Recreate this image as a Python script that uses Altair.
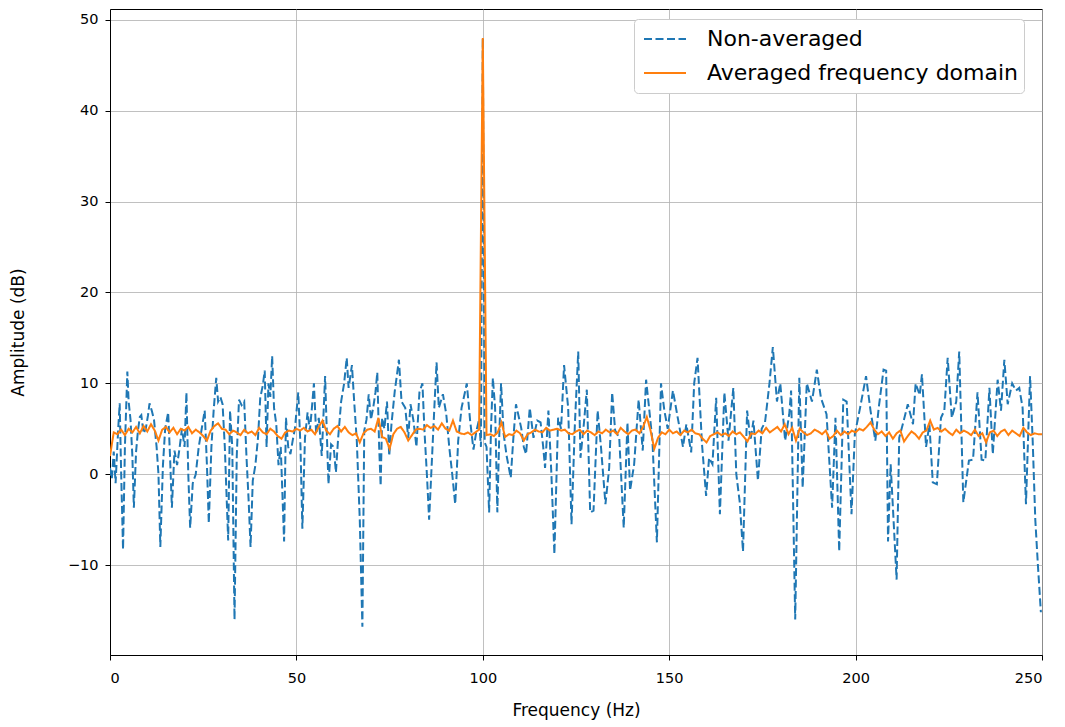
import altair as alt
import pandas as pd

series_names = ["Non-averaged", "Averaged frequency domain"]
series_colors = ["#1f77b4", "#ff7f0e"]

x_ticks = [0, 50, 100, 150, 200, 250]
y_ticks = [-10, 0, 10, 20, 30, 40, 50]

# Averaged spectrum (1 Hz bins)
avg_freq = list(range(251))
avg_db = [
    2.0, 4.6, 4.4, 4.9, 4.3, 5.0, 4.6, 5.2, 4.5, 5.3,
    4.7, 5.5, 4.8, 3.7, 4.9, 5.2, 4.6, 5.1, 4.4, 5.0,
    4.8, 5.2, 4.5, 4.9, 4.6, 4.2, 3.7, 4.8, 5.3, 5.6,
    5.0, 4.9, 4.4, 4.8, 4.6, 4.3, 4.9, 4.5, 4.7, 4.3,
    5.1, 4.6, 4.4, 5.0, 4.7, 4.2, 3.9, 4.6, 4.8, 4.7,
    5.0, 4.8, 5.1, 4.7, 4.9, 4.4, 5.2, 5.9, 4.8, 4.4,
    5.0, 5.3, 4.7, 5.2, 4.6, 4.3, 4.5, 3.5, 4.5, 4.9,
    5.0, 4.7, 6.2, 4.1, 3.9, 2.8, 4.4, 5.0, 5.2, 4.6,
    3.7, 4.3, 4.9, 5.0, 4.9, 5.4, 5.1, 5.3, 4.9, 5.6,
    5.0, 4.8, 5.9, 4.7, 4.5, 4.4, 4.6, 4.3, 4.6, 4.9,
    48.0,
    4.3, 4.4, 4.2, 4.6, 5.7, 4.1, 4.4, 4.3, 4.8,
    4.5, 3.7, 4.4, 4.6, 4.9, 4.7, 4.6, 5.1, 4.8, 4.9,
    5.0, 4.8, 4.9, 4.5, 4.4, 4.7, 4.9, 4.4, 4.8, 4.6,
    4.3, 4.7, 4.5, 4.9, 4.6, 4.8, 4.4, 5.1, 4.7, 4.4,
    4.8, 4.9, 4.5, 5.2, 6.3, 4.8, 2.8, 4.0, 4.6, 4.4,
    4.9, 4.5, 4.7, 4.3, 4.8, 4.6, 4.9, 4.5, 4.4, 3.9,
    3.5, 4.2, 4.4, 4.6, 4.3, 4.5, 4.2, 4.7, 4.4, 4.6,
    4.1, 3.6, 4.5, 4.4, 4.8, 4.5, 5.1, 4.6, 4.9, 5.2,
    4.7, 5.5, 4.4, 5.1, 3.7, 5.0, 4.6, 4.3, 4.5, 4.9,
    4.7, 4.4, 4.8, 3.9, 4.2, 4.8, 4.3, 4.7, 4.4, 4.8,
    4.6, 5.0, 4.8, 5.2, 5.7, 4.9, 4.4, 4.7, 4.2, 4.6,
    3.9, 4.5, 4.8, 3.6, 4.2, 4.7, 4.4, 3.9, 4.6, 4.8,
    5.9, 4.9, 5.1, 4.7, 5.0, 4.6, 4.3, 4.9, 4.5, 4.8,
    4.6, 4.3, 4.9, 4.2, 4.5, 3.5, 4.6, 4.8, 4.2, 4.7,
    4.9, 4.3, 4.8, 4.5, 4.2, 5.1, 4.6, 4.3, 4.5, 4.4,
    4.4,
]

# Non-averaged spectrum
raw_freq = [
    0, 0.5, 1, 1.5, 2.2, 2.6, 3, 3.5, 4, 4.65, 5, 5.5, 6, 6.4, 7, 7.5, 8, 8.4, 9, 9.6,
    10.2, 10.6, 11.2, 11.8, 12.5, 13, 13.5, 14.2, 14.8, 15.6, 16.1, 16.6, 17.3, 18, 18.7, 19.3,
    20, 20.5, 21, 21.5, 22.2, 23, 23.8, 24.6, 25.4, 26, 26.5, 27.2, 27.8, 28.5, 29, 29.6,
    30.2, 30.8, 31.7, 32.2, 32.8, 33.4, 34, 34.6, 35.3, 36, 36.6, 37.2, 37.7, 38.3, 39, 39.7,
    40.3, 41, 41.5, 42, 42.5, 43, 43.5, 44, 44.6, 45.2, 45.8, 46.7, 47.2, 47.8, 48.4, 49, 49.6,
    50.5, 51.1, 51.6, 52.3, 53, 53.6, 54.1, 54.7, 55.3, 56, 56.8, 57.7, 58.2, 58.6, 59.3,
    60, 60.6, 61.2, 62, 62.8, 63.5, 64, 64.9, 65.5, 66.2, 67, 67.7, 68.2, 68.8, 69.4,
    70, 70.6, 71.2, 71.7, 72.2, 72.6, 73, 73.6, 74.3, 74.9, 75.5, 76.4, 77, 77.5, 78.2, 79.2,
    80, 80.6, 81.4, 82.2, 83, 83.8, 84.4, 85, 85.6, 86.4, 87, 87.6, 88.2, 89.3,
    90.2, 91, 91.8, 92.6, 93.4, 94.3, 95.2, 95.7, 96.6, 97.5, 98.3, 99, 99.5,
    100, 100.5, 101, 101.7, 102.2, 102.7, 103.3, 103.9, 104.4, 104.9, 105.6, 106.4, 107.5,
    108.2, 108.9, 110.3, 111, 111.6, 112.6, 113.6, 114.6, 115.5, 116.2, 116.7, 117.6, 118.4,
    119.2, 120.2, 121, 121.8, 122.9, 123.8, 124.7, 125.6, 126.2, 127.1, 127.9, 128.8, 129.7,
    130.8, 131.7, 132.9, 133.9, 134.7, 135.5, 136.6, 137.8, 138.8, 139.5, 140.6, 141.8,
    142.9, 143.8, 144.5, 145.5, 146.7, 147.8, 148.7, 149.6, 151, 152.3, 153.7, 154.6,
    155.9, 156.7, 157.6, 158.8, 159.9, 160.7, 161.6, 162.6, 163.6, 164.8, 165.9, 167.2,
    168, 168.9, 169.8, 170.9, 171.8, 172.6, 173.8, 174.8, 175.7, 176.9, 177.8, 178.9,
    179.8, 181.1, 182.2, 182.7, 183.8, 184.9, 185.8, 186.9, 188.3, 189.6, 190.7, 192.2,
    193.7, 194.6, 195.6, 196.7, 197.6, 198.9, 199.8, 201.2, 202.8, 204, 205.3, 206.2,
    207.5, 208.2, 208.7, 209.4, 210.1, 211, 211.7, 213.1, 214, 215.4, 216.1, 217.2,
    217.8, 218.9, 219.8, 220.7, 221.8, 222.9, 223.8, 224.7, 225.8, 227, 227.8, 228.9,
    230.4, 231.5, 232.7, 233.8, 234.8, 235.9, 236.8, 238.1, 239, 239.9, 240.8, 242,
    243, 243.9, 244.8, 245.7, 246.8, 247.5, 248.2, 248.9, 249.7,
]
raw_db = [
    0.7, -0.5, 2.5, -1, 5, 7.8, 0, -8.3, 3, 11.3, 8, 6, 2, -3.7, 2.5, 4.8, 6.3, 6.5, 4.5, 5,
    6.5, 7.8, 7, 6, 3, 0, -8, 1, 5, 6.8, 2, -3.7, 2.6, 1, 3, 5,
    3, 9, 0, -5.9, -1, 0, 3, 5, 7, 1, -5.4, 3, 7, 10.6, 8, 8.5,
    7.7, 3, -7.3, 7, 3, -16, 2, 8.2, 7.6, 8, 2, -3, -8, -0.7, 1, 4,
    8.4, 9.8, 11.4, 3, 10, 8.5, 13, 7.3, 5.5, 1, 3, -7.4, 6.2, 3, 2.2, 3.7, 5,
    9, 3, -6, 4, 6.8, 4.8, 7, 10, 4.4, 6.2, 2, 10.8, 4, -1.1, 3.3,
    3, 0.2, 4, 8, 10, 12.8, 9.5, 12, 8, 3.7, -5, -16.8, 4.8, 6, 8.8,
    6, 7.3, 9, 11.2, 3, -1.3, 6.2, 5, 8, 2, 5.5, 9.2, 11, 12.6, 8, 7.3,
    4, 7.7, 5.9, 3, 9, 10, 4.4, 0, -5, 2, 7.3, 12.3, 7.3, 8.8,
    6.6, 3, 0, -3.3, 3.7, 7.3, 9, 10, 5.9, 2.7, 4.8, 6, 3,
    48, 3.5, 3, -4.2, 5, 10.6, 7.3, -4.2, 4, 10, 4.4, 2, -0.4,
    4, 7.7, 5.1, 3, 2.2, 7.3, 4, 5.9, 5.7, 3, 0.7, 7, 0,
    -8.8, 6.2, 5, 12, 7.3, -5.5, 5.5, 13.5, 1.8, 5.5, 9.3, -4.2, -4,
    7, 3, -3.3, 0.7, 9, 4.8, 4, -5.9, 5.7, -1.8, 1.1, 8.2,
    2.6, 10.4, 7.7, 3.7, -7.5, 10, 7, 5, 9.2, 6.2, 3, 5.5,
    2.4, 10, 12.8, 3.3, -2.4, 1.8, 1.1, 8.4, -4.4, 9, 3.7, 9.5,
    0, -3, -8.5, 7, 3.7, 5.9, -0.7, 5, 5.7, 10, 14, 8,
    10, 3.7, 6.6, 9.2, -16, 10.6, -1.5, 10, 8, 11.5, 8.4, 6.6,
    -3.7, 6.2, -8.5, 8.2, 8, -4.4, 4.4, 7.3, 10.8, 7, 3.7, 7.3,
    11.5, 11.4, -7.4, 1.1, -4.4, -11.6, 4, 6.2, 7.7, 5.5, 10, 8.7,
    11, 3, 5.5, -0.9, -1.1, 6.2, 7, 12.8, 6.2, 8, 13.5, -3.1,
    1.5, 1.6, 9, 1.6, 1.5, 9.5, 2.2, 10.4, 7, 12.6, 7.7, 10,
    9.2, 9.5, 7.3, -3.3, 10.8, 3.7, -5, -10, -15.2,
]

raw_df = pd.DataFrame({"freq": raw_freq, "db": raw_db, "series": series_names[0]})
avg_df = pd.DataFrame({"freq": avg_freq, "db": avg_db, "series": series_names[1]})

FONT = "DejaVu Sans"

legend = alt.Legend(
    title=None,
    orient="none",
    legendX=524,
    legendY=10,
    symbolType="stroke",
    symbolSize=1764,
    symbolStrokeWidth=2,
    symbolOffset=4,
    clipHeight=30,
    labelFont=FONT,
    labelFontSize=22,
    labelColor="black",
    labelLimit=600,
    labelOffset=20,
    fillColor="white",
    strokeColor="#cccccc",
    cornerRadius=4,
    padding=5,
    rowPadding=4,
)

x_enc = alt.X(
    "freq:Q",
    scale=alt.Scale(domain=[0, 250], nice=False, zero=False),
    axis=alt.Axis(values=x_ticks, title="Frequency (Hz)", format="d"),
)
y_enc = alt.Y(
    "db:Q",
    scale=alt.Scale(domain=[-19.9, 51.2], nice=False, zero=False),
    axis=alt.Axis(values=y_ticks, title="Amplitude (dB)", format="d"),
)
color_enc = alt.Color(
    "series:N",
    scale=alt.Scale(domain=series_names, range=series_colors),
    legend=legend,
)
dash_enc = alt.StrokeDash(
    "series:N",
    scale=alt.Scale(domain=series_names, range=[[8, 3.5], [1, 0]]),
    legend=legend,
)

raw_line = alt.Chart(raw_df).mark_line(strokeWidth=2, clip=True).encode(
    x=x_enc, y=y_enc, color=color_enc, strokeDash=dash_enc, order="freq:Q"
)
avg_line = alt.Chart(avg_df).mark_line(strokeWidth=2, clip=True).encode(
    x=x_enc, y=y_enc, color=color_enc, strokeDash=dash_enc, order="freq:Q"
)

chart = (
    alt.layer(raw_line, avg_line)
    .properties(
        width=932,
        height=646,
        autosize=alt.AutoSizeParams(type="none"),
        padding={"left": 102, "top": 1, "right": 15, "bottom": 70},
    )
    .configure_view(stroke="black", strokeWidth=1)
    .configure_axis(
        grid=True,
        gridColor="#b0b0b0",
        gridWidth=0.8,
        domainColor="black",
        domainWidth=1,
        tickColor="black",
        tickSize=5,
        tickWidth=1,
        labelFont=FONT,
        labelFontSize=14.5,
        labelColor="black",
        titleFont=FONT,
        titleFontSize=17,
        titleFontWeight="normal",
        titleColor="black",
    )
    .configure_axisX(labelPadding=11, titlePadding=18)
    .configure_axisY(labelPadding=7, titlePadding=40)
)

chart.save("out.html", embed_options={"renderer": "svg", "actions": False})
